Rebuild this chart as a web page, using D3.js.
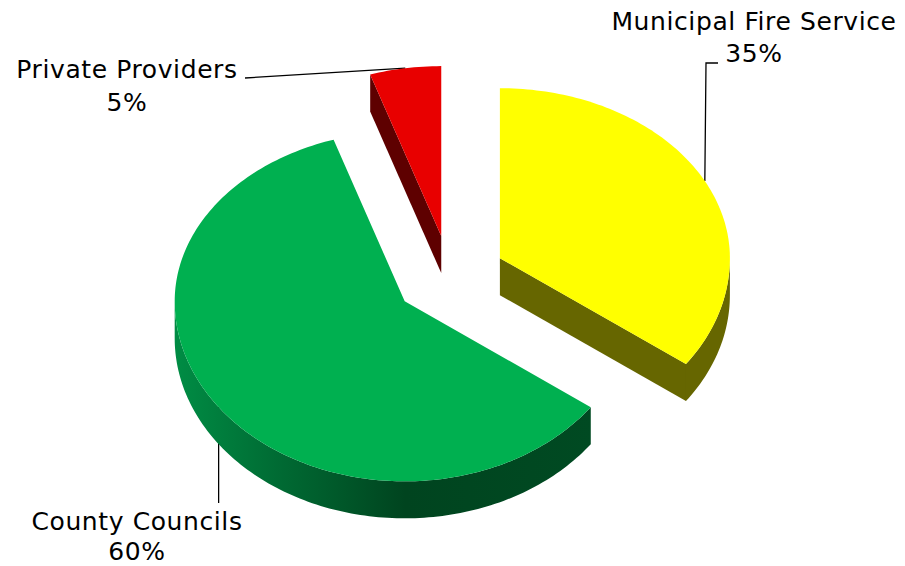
<!DOCTYPE html>
<html>
<head>
<meta charset="utf-8">
<script src="https://cdn.jsdelivr.net/npm/d3@7"></script>
<style>
  body { margin: 0; background: #fff; }
  text { font-family: "DejaVu Sans", Verdana, sans-serif; font-size: 25px; letter-spacing: 0.6px; fill: #000; }
</style>
</head>
<body>
<div id="chart"></div>
<script>
// chart data
const categories = ["Municipal Fire Service", "County Councils", "Private Providers"];
const values = [35, 60, 5];
const percentLabels = ["35%", "60%", "5%"];

const topColors = ["#ffff00", "#00b050", "#e80000"];
const sideColors = ["#666600", "#004a22", "#5e0000"];

const width = 905, height = 566;
const cx = 450, cy = 277;
const rx = 230;
const ryBack = 170, ryFront = 180; // a bit of perspective
const depth = 37;
const explode = 56;

const svg = d3.select("#chart")
    .append("svg")
    .attr("width", width)
    .attr("height", height);

const defs = svg.append("defs");
const grad = defs.append("linearGradient")
    .attr("id", "greenWall")
    .attr("gradientUnits", "userSpaceOnUse")
    .attr("x1", 176).attr("x2", 593).attr("y1", 0).attr("y2", 0);
grad.append("stop").attr("offset", "0%").attr("stop-color", "#008c44");
grad.append("stop").attr("offset", "25%").attr("stop-color", "#006a33");
grad.append("stop").attr("offset", "55%").attr("stop-color", "#00441f");
grad.append("stop").attr("offset", "100%").attr("stop-color", "#004a22");

const pie = d3.pie().sort(null).startAngle(0).endAngle(2 * Math.PI);
const arcs = pie(values);

// slice center after exploding along mid angle
function center(d) {
    const mid = (d.startAngle + d.endAngle) / 2;
    return [cx + Math.sin(mid) * explode, cy - Math.cos(mid) * explode * ryBack / rx];
}
function rim(c, a, dz) {
    const cs = Math.cos(a);
    const ry = cs > 0 ? ryBack : ryFront;
    return [c[0] + Math.sin(a) * rx, c[1] - cs * ry + (dz || 0)];
}
function arcPoints(c, a0, a1, dz) {
    const n = Math.max(2, Math.ceil(Math.abs(a1 - a0) / 0.02));
    return d3.range(n + 1).map(i => rim(c, a0 + (a1 - a0) * i / n, dz));
}
const line = d3.line();

// leader lines & labels (behind the pie)
const leaders = [
    { pts: d => [rim(center(d), (d.startAngle + d.endAngle) / 2), [706, 63], [718, 63]],
      lx: 754, ly: [30, 62] },
    { pts: d => { const p = rim(center(d), (d.startAngle + d.endAngle) / 2); return [p, [p[0], 503]]; },
      lx: 137, ly: [530, 560] },
    { pts: d => [rim(center(d), (d.startAngle + d.endAngle) / 2), [245, 78]],
      lx: 127, ly: [78, 111] }
];

arcs.forEach((d, i) => {
    svg.append("path")
        .attr("d", line(leaders[i].pts(d)))
        .attr("fill", "none")
        .attr("stroke", "#000")
        .attr("stroke-width", 1.3);
    const t = svg.append("text").attr("text-anchor", "middle");
    t.append("tspan").attr("x", leaders[i].lx).attr("y", leaders[i].ly[0]).text(categories[i]);
    t.append("tspan").attr("x", leaders[i].lx).attr("y", leaders[i].ly[1]).text(percentLabels[i]);
});

// draw slices back to front: private, municipal, county
const order = [2, 0, 1];
order.forEach(i => {
    const d = arcs[i];
    const c = center(d);
    const g = svg.append("g");
    const side = i === 1 ? "url(#greenWall)" : sideColors[i];
    const a0 = d.startAngle, a1 = d.endAngle;

    // radial faces
    if (Math.sin(a0) < -1e-6) {
        const p = rim(c, a0);
        g.append("path")
            .attr("d", line([c, p, [p[0], p[1] + depth], [c[0], c[1] + depth]]) + "Z")
            .attr("fill", sideColors[i]);
    }
    if (Math.sin(a1) > 1e-6) {
        const p = rim(c, a1);
        g.append("path")
            .attr("d", line([c, p, [p[0], p[1] + depth], [c[0], c[1] + depth]]) + "Z")
            .attr("fill", sideColors[i]);
    }

    // outer wall, front part only (90deg..270deg)
    const w0 = Math.max(a0, Math.PI / 2), w1 = Math.min(a1, 3 * Math.PI / 2);
    if (w1 > w0) {
        const topEdge = arcPoints(c, w0, w1, 0);
        const botEdge = arcPoints(c, w1, w0, depth);
        g.append("path")
            .attr("d", line(topEdge.concat(botEdge)) + "Z")
            .attr("fill", side);
    }

    // top face
    g.append("path")
        .attr("d", line([c].concat(arcPoints(c, a0, a1, 0))) + "Z")
        .attr("fill", topColors[i]);
});
</script>
</body>
</html>
